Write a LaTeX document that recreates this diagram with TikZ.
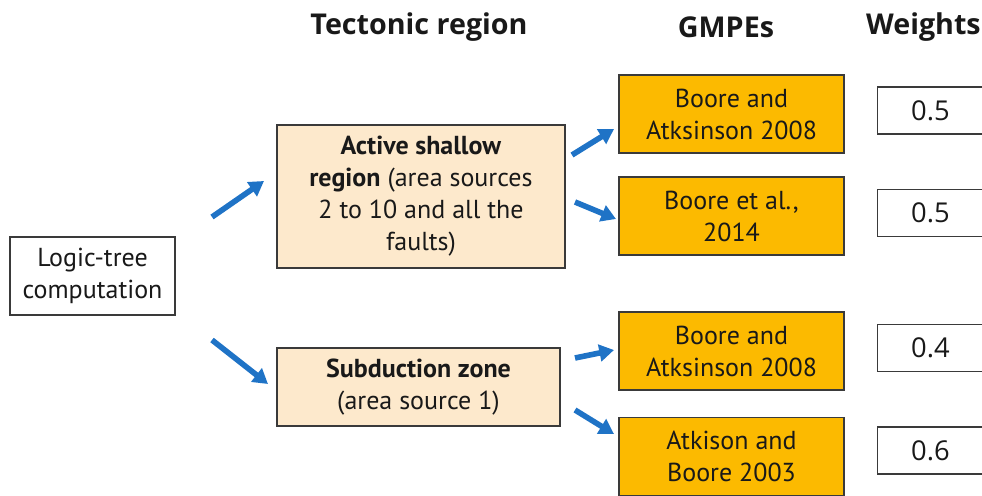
\documentclass[tikz,border=0pt]{standalone}
\usepackage{fontspec}
\setmainfont{PT Sans}
\newfontfamily\headfont{Open Sans}
\usetikzlibrary{arrows.meta}
\definecolor{boxline}{HTML}{3A3A3A}
\definecolor{beige}{HTML}{FDE9CC}
\definecolor{gmpe}{HTML}{FCBA00}
\definecolor{arrowblue}{HTML}{1F73C6}
\tikzset{
  base/.style={draw=boxline, line width=0.9pt, align=center, inner sep=0pt,
    font=\fontsize{19.5}{24}\selectfont, text=black!90},
  plainbox/.style={base, fill=white},
  regionbox/.style={base, fill=beige},
  gmpebox/.style={base, fill=gmpe, minimum width=168.75pt, minimum height=58.5pt},
  weightbox/.style={base, fill=white, minimum width=80pt, minimum height=35.25pt,
    font=\headfont\fontsize{20.5}{24}\selectfont},
  heading/.style={font=\headfont\fontsize{21.5}{26}\selectfont\bfseries, text=black!90},
  flow/.style={draw=arrowblue, line width=4.2pt, -{Triangle[length=11pt,width=12.5pt]}}
}
\begin{document}
\begin{tikzpicture}[x=0.75pt,y=-0.75pt]
\useasboundingbox (0,0) rectangle (982,496);
\clip (0,0) rectangle (982,496);
% headings
\node[heading] (h1) at (419,27) {Tectonic region};
\node[heading] (h2) at (726,27) {GMPEs};
\node[heading, anchor=east, inner xsep=0pt] (h3) at (981,27) {Weights};
% boxes
\node[plainbox, minimum width=123.75pt, minimum height=58.5pt] (lt) at (92.5,276) {Logic-tree\\computation};
\node[regionbox, minimum width=216pt, minimum height=107.25pt] (asr) at (421,196.5)
  {\textbf{Active shallow}\\\textbf{region} (area sources\\2 to 10 and all the\\faults)};
\node[regionbox, minimum width=212.25pt, minimum height=58.5pt] (sz) at (418.5,387)
  {\textbf{Subduction zone}\\(area source 1)};
\node[gmpebox] (g1) at (731.5,114) {Boore and\\Atksinson 2008};
\node[gmpebox] (g2) at (731.5,216) {Boore et al.,\\2014};
\node[gmpebox] (g3) at (731.5,351) {Boore and\\Atksinson 2008};
\node[gmpebox] (g4) at (731.5,456.5) {Atkison and\\Boore 2003};
\node[weightbox] (w1) at (930.5,110.5) {0.5};
\node[weightbox] (w2) at (930.5,213) {0.5};
\node[weightbox] (w3) at (930.5,348) {0.4};
\node[weightbox] (w4) at (930.5,450.5) {0.6};
% arrow end points
\coordinate (a1s) at (212,217); \coordinate (a1e) at (264,181);
\coordinate (a2s) at (212,340); \coordinate (a2e) at (268,384);
\coordinate (b1s) at (572,155); \coordinate (b1e) at (614,129);
\coordinate (b2s) at (575,202); \coordinate (b2e) at (616,219);
\coordinate (b3s) at (575,358); \coordinate (b3e) at (614,350);
\coordinate (b4s) at (575,410); \coordinate (b4e) at (614,434);
\draw[flow] (a1s) -- (a1e);
\draw[flow] (a2s) -- (a2e);
\draw[flow] (b1s) -- (b1e);
\draw[flow] (b2s) -- (b2e);
\draw[flow] (b3s) -- (b3e);
\draw[flow] (b4s) -- (b4e);
\end{tikzpicture}
\end{document}
